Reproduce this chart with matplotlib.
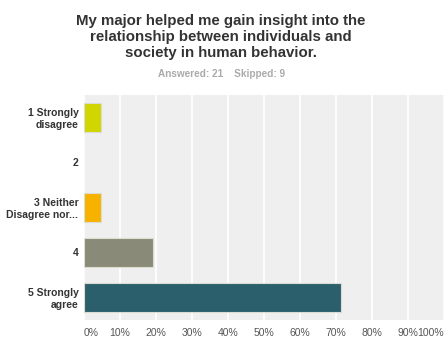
import numpy as np
import matplotlib.pyplot as plt

plt.rcParams['font.family'] = ['Liberation Sans', 'DejaVu Sans']

categories = ["1 Strongly\ndisagree", "2", "3 Neither\nDisagree nor...", "4", "5 Strongly\nagree"]
answered = 21
skipped = 9
counts = [1, 0, 1, 4, 15]
percents = [100.0 * c / answered for c in counts]
colors = ["#d1d500", "#b0b0b0", "#f7b200", "#898a77", "#2c5f6c"]
x_ticks = np.arange(0, 101, 10)

fig = plt.figure(figsize=(4.45, 3.41), dpi=100)
ax = fig.add_axes([0.1888, 0.0616, 0.809, 0.66])

y = np.arange(len(categories))
edges = ["#dcdcd0" if p > 0 else "none" for p in percents]
ax.barh(y, percents, height=0.66, color=colors, edgecolor=edges, linewidth=0.8, zorder=3)

ax.set_facecolor("#efefef")
ax.set_xlim(0, 100)
ax.set_ylim(len(categories) - 0.5, -0.5)
ax.set_xticks(x_ticks)
ax.set_xticklabels([f"{t}%" for t in x_ticks], fontsize=7.5, color="#555555")
xl = ax.get_xticklabels()
xl[0].set_ha("left")
xl[-1].set_ha("right")
ax.set_yticks(y)
ax.set_yticklabels(categories, fontsize=7.5, fontweight="bold", color="#333333", linespacing=1.15)
ax.grid(axis="x", color="white", linewidth=1.2, zorder=0)
ax.tick_params(length=0, pad=6)
ax.tick_params(axis="y", pad=4)
for s in ax.spines.values():
    s.set_visible(False)

fig.text(0.497, 0.958, "My major helped me gain insight into the\nrelationship between individuals and\nsociety in human behavior.",
         ha="center", va="top", fontsize=10.8, fontweight="bold", color="#333333", linespacing=1.17)
fig.text(0.497, 0.783, f"Answered: {answered}    Skipped: {skipped}", ha="center", va="center",
         fontsize=7.2, fontweight="bold", color="#aaaaaa")

fig.savefig("out.png", dpi=100)
